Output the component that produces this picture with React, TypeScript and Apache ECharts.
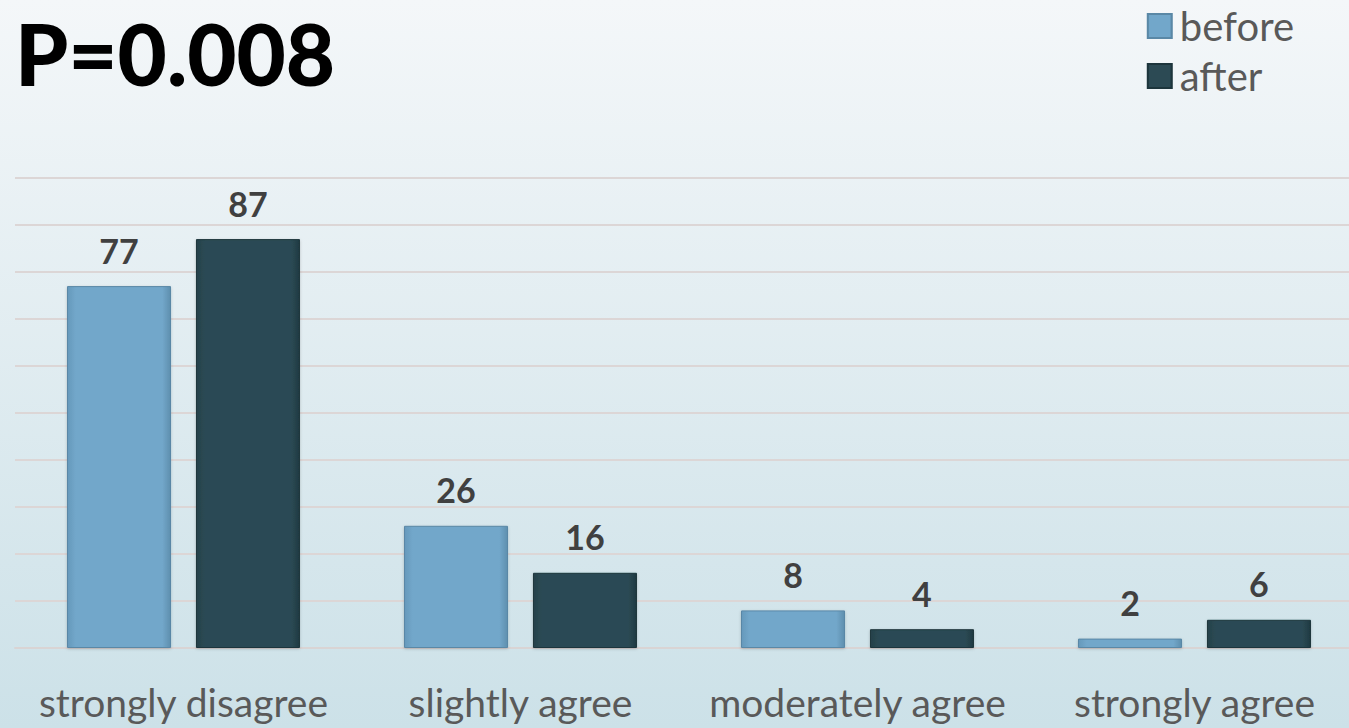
import React, { useEffect, useRef } from "react";
import * as echarts from "echarts";

const categories = ["strongly disagree", "slightly agree", "moderately agree", "strongly agree"];
const beforeValues = [77, 26, 8, 2];
const afterValues = [87, 16, 4, 6];
const seriesNames = ["before", "after"];
const titleText = "P=0.008";

export default function App() {
  const ref = useRef<HTMLDivElement>(null);
  useEffect(() => {
    const chart = echarts.init(ref.current!, null, { renderer: "svg" });
    const labelStyle = {
      show: true,
      position: "top",
      distance: 19,
      fontFamily: "Lato",
      fontWeight: "bold",
      fontSize: 34,
      color: "#404040",
    };
    chart.setOption({
      animation: false,
      backgroundColor: {
        type: "linear",
        x: 0, y: 0, x2: 0, y2: 1,
        colorStops: [
          { offset: 0, color: "#f4f7f9" },
          { offset: 1, color: "#cce1e8" },
        ],
      },
      title: {
        text: titleText,
        left: 10,
        top: 5,
        textStyle: { fontFamily: "Lato", fontWeight: 900, fontSize: 85, color: "#000000" },
      },
      legend: {
        orient: "vertical",
        right: 50,
        top: 1,
        itemWidth: 24,
        itemHeight: 24,
        itemGap: 10,
        icon: "rect",
        textStyle: { fontFamily: "Lato", fontSize: 40, lineHeight: 38, color: "#595959", padding: [0, 0, 0, 3] },
        data: seriesNames,
      },
      grid: {
        left: 15,
        width: 1348,
        top: 178,
        bottom: 80,
        containLabel: false,
        outerBoundsMode: "none",
      },
      xAxis: {
        type: "category",
        data: categories,
        axisLine: { show: true, lineStyle: { color: "#d9d4d4", width: 2 } },
        axisTick: { show: false },
        axisLabel: { interval: 0, margin: 34, fontFamily: "Lato", fontSize: 39, color: "#595959" },
      },
      yAxis: {
        type: "value",
        min: 0,
        max: 100,
        interval: 10,
        axisLabel: { show: false },
        axisLine: { show: false },
        axisTick: { show: false },
        splitLine: { lineStyle: { color: "#dcd6d6", width: 2 } },
      },
      series: [
        {
          name: seriesNames[0],
          type: "bar",
          data: beforeValues,
          barWidth: 104,
          barGap: "24%",
          itemStyle: {
            color: {
              type: "linear", x: 0, y: 0, x2: 1, y2: 0,
              colorStops: [
                { offset: 0, color: "#6699bb" },
                { offset: 0.08, color: "#72a7ca" },
                { offset: 0.92, color: "#72a7ca" },
                { offset: 1, color: "#5f8fae" },
              ],
            },
            borderColor: "#5a88a6",
            borderWidth: 1,
            shadowColor: "rgba(0,0,0,0.2)",
            shadowBlur: 3,
            shadowOffsetY: 1,
          },
          label: labelStyle,
        },
        {
          name: seriesNames[1],
          type: "bar",
          data: afterValues,
          barWidth: 104,
          itemStyle: {
            color: {
              type: "linear", x: 0, y: 0, x2: 1, y2: 0,
              colorStops: [
                { offset: 0, color: "#24414a" },
                { offset: 0.08, color: "#2c4a54" },
                { offset: 0.92, color: "#2c4a54" },
                { offset: 1, color: "#1f3a42" },
              ],
            },
            borderColor: "#1d353c",
            borderWidth: 1,
            shadowColor: "rgba(0,0,0,0.2)",
            shadowBlur: 3,
            shadowOffsetY: 1,
          },
          label: labelStyle,
        },
      ],
    });
    return () => chart.dispose();
  }, []);
  return (
    <div
      ref={ref}
      style={{ position: "absolute", left: 0, top: 0, width: 1349, height: 728 }}
    />
  );
}
